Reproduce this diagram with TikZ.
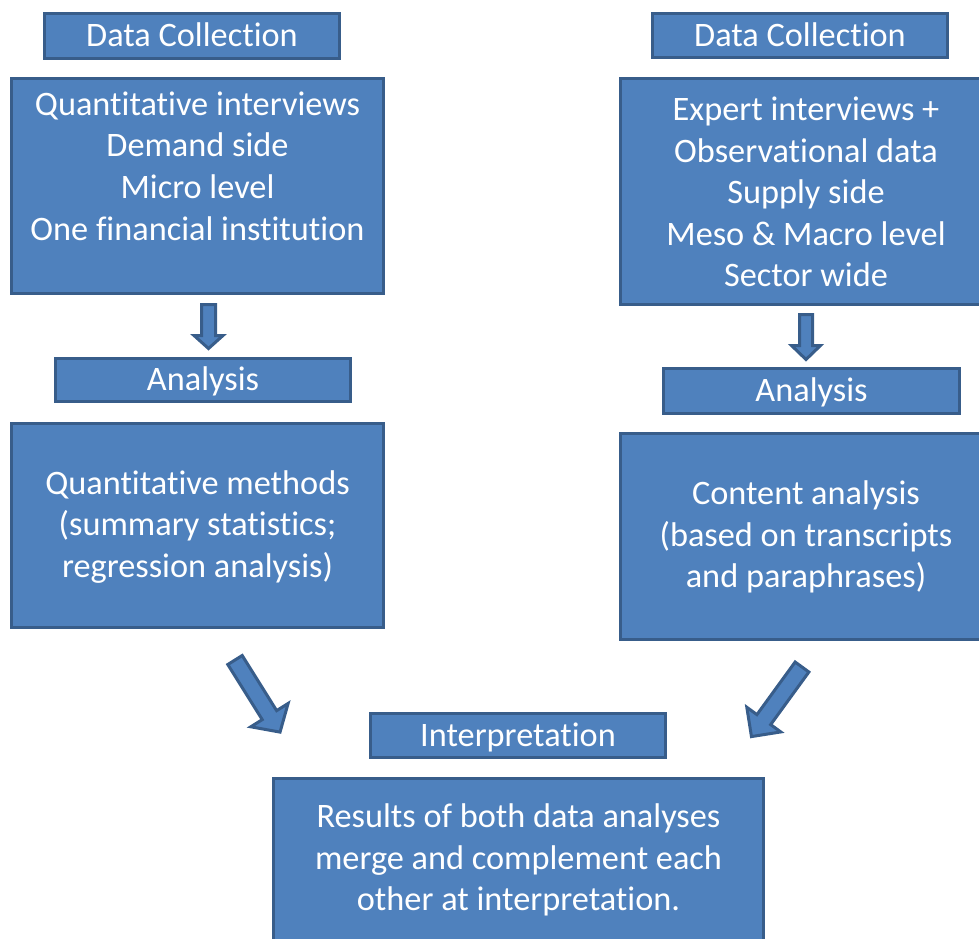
\documentclass[tikz,border=0pt]{standalone}
\usepackage{fontspec}
\setmainfont{Carlito}[Ligatures={NoCommon,NoContextual,NoRare},RawFeature={-liga;-clig;-calt;-dlig}]
\definecolor{boxfill}{HTML}{4F81BD}
\definecolor{boxline}{HTML}{385D8A}
\newcommand{\BArrow}[7]{%
  \begin{scope}[shift={(#1,#2)},rotate=#3]
    \draw[arrowsty] (0,#5) -- ({#4-#7},#5) -- ({#4-#7},#6) -- (#4,0) -- ({#4-#7},-#6) -- ({#4-#7},-#5) -- (0,-#5) -- cycle;
  \end{scope}}
\begin{document}
\begin{tikzpicture}[x=1pt,y=-1pt,
  bx/.style={draw=boxline,fill=boxfill,line width=3pt,rectangle,inner sep=0pt,
    text=white,font=\fontsize{34.3}{41.6}\selectfont,align=center},
  one/.style={text height=21.7pt,text depth=0pt},
  txt/.style={text=white,font=\fontsize{34.3}{41.6}\selectfont,align=center,inner sep=0pt},
  arrowsty/.style={draw=boxline,fill=boxfill,line width=3pt,line join=miter}]
\useasboundingbox (0,0) rectangle (979,938);
\clip (0,0) rectangle (979,938);
% left column
\node[bx,one,minimum width=295pt,minimum height=45pt] (dcL) at (192,36) {Data Collection};
\node[bx,minimum width=372pt,minimum height=215pt] (qL) at (197.5,186) {};
\node[txt] (qLt) at (197.5,166) {Quantitative interviews\\Demand side\\Micro level\\One financial institution};
\node[bx,one,minimum width=295pt,minimum height=43pt] (anL) at (203,380) {Analysis};
\node[bx,minimum width=372pt,minimum height=204pt] (mL) at (197.5,525.5) {};
\node[txt] (mLt) at (197.5,527) {Quantitative methods\\(summary statistics;\\regression analysis)};
% right column
\node[bx,one,minimum width=295pt,minimum height=44pt] (dcR) at (800,35.5) {Data Collection};
\node[bx,minimum width=371pt,minimum height=226pt] (qR) at (806,191.5) {};
\node[txt] (qRt) at (806,192) {Expert interviews +\\Observational data\\Supply side\\Meso \& Macro level\\Sector wide};
\node[bx,one,minimum width=296pt,minimum height=45pt] (anR) at (811.5,391) {Analysis};
\node[bx,minimum width=371pt,minimum height=206pt] (cR) at (806,536.5) {};
\node[txt] (cRt) at (806,537) {Content analysis\\(based on transcripts\\and paraphrases)};
% bottom
\node[bx,one,minimum width=295pt,minimum height=44pt] (intp) at (518,735.5) {Interpretation};
\node[bx,minimum width=490pt,minimum height=163pt] (res) at (518.5,860) {};
\node[txt] (rest) at (518.5,860) {Results of both data analyses\\merge and complement each\\other at interpretation.};
% block arrows
\BArrow{208.5}{304.5}{-90}{44}{7}{14.5}{13}
\BArrow{806}{314.5}{-90}{45}{6.5}{14.5}{14}
\BArrow{235}{660}{-58}{85}{8.5}{22}{20}
\BArrow{802}{667}{-126}{86}{8.5}{21}{21}
\end{tikzpicture}
\end{document}
